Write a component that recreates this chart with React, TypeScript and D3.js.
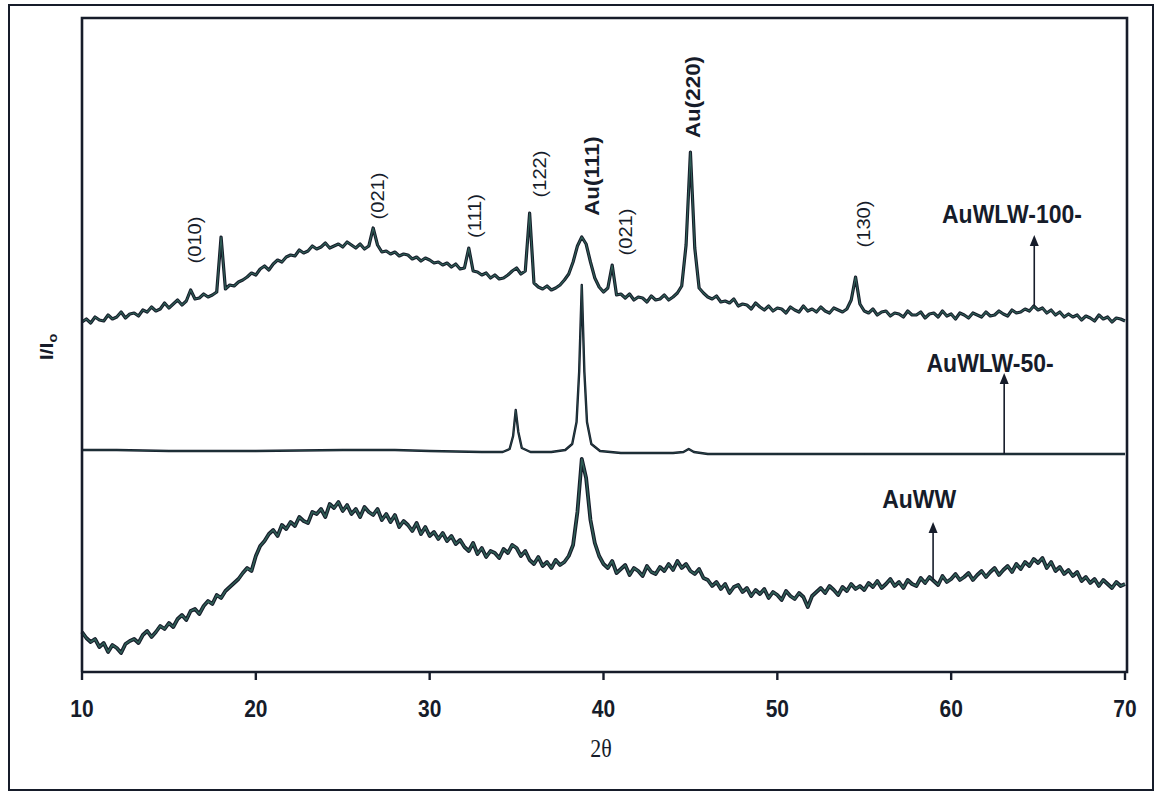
import React from 'react';
import * as d3 from 'd3';

const width = 1156;
const height = 792;

// plot box in page pixels
const box = { left: 82, right: 1125, top: 18, bottom: 672 };

// 2θ grid of the two noisy scans
const thetaStart = 10;
const thetaStep = 0.25;

// AuWLW-100- (top scan), intensity in arbitrary units
const auwlw100 = [
  350, 353, 349, 355, 352, 351, 357, 353, 355, 360, 354, 358,
  359, 356, 362, 360, 365, 361, 363, 369, 364, 368, 372, 367,
  371, 382, 373, 374, 378, 375, 377, 380, 435, 383, 387, 386,
  390, 392, 395, 399, 397, 403, 406, 402, 408, 412, 410, 415,
  417, 416, 422, 419, 421, 426, 423, 425, 429, 424, 426, 428,
  425, 430, 427, 424, 428, 423, 426, 444, 427, 420, 421, 418,
  420, 416, 418, 417, 413, 415, 411, 414, 412, 409, 410, 407,
  409, 405, 408, 403, 404, 424, 401, 400, 397, 399, 394, 397,
  393, 394, 397, 401, 404, 398, 401, 459, 389, 385, 383, 386,
  382, 384, 387, 392, 398, 410, 426, 435, 428, 410, 394, 385,
  380, 384, 407, 377, 378, 374, 378, 372, 375, 374, 370, 376,
  372, 373, 377, 372, 375, 379, 386, 427, 520, 424, 384, 379,
  375, 373, 376, 370, 371, 369, 373, 366, 368, 367, 363, 369,
  365, 362, 366, 361, 364, 363, 359, 365, 362, 360, 366, 361,
  363, 360, 365, 361, 359, 364, 362, 360, 363, 372, 395, 368,
  361, 359, 363, 357, 360, 361, 356, 359, 358, 355, 361, 357,
  357, 360, 354, 358, 359, 355, 361, 356, 358, 353, 359, 357,
  354, 359, 357, 355, 360, 356, 357, 361, 358, 356, 362, 359,
  360, 363, 361, 366, 362, 364, 359, 362, 357, 360, 355, 358,
  355, 357, 352, 356, 354, 351, 357, 353, 355, 350, 354, 353,
  351
];

// AuWW (bottom scan)
const auww = [
  40, 34, 30, 33, 25, 29, 20, 27, 24, 19, 28, 31,
  33, 29, 37, 41, 35, 40, 46, 43, 49, 45, 53, 57,
  52, 61, 63, 58, 66, 71, 68, 77, 74, 81, 85, 89,
  93, 99, 104, 101, 116, 126, 131, 138, 142, 136, 147, 143,
  150, 146, 155, 151, 149, 160, 158, 163, 155, 168, 164, 170,
  161, 167, 158, 163, 155, 165, 160, 157, 163, 152, 158, 150,
  157, 145, 151, 147, 141, 149, 138, 145, 136, 140, 133, 139,
  131, 136, 128, 132, 125, 121, 129, 118, 124, 115, 121, 119,
  114, 123, 119, 127, 124, 116, 121, 112, 108, 115, 106, 110,
  104, 112, 107, 110, 116, 127, 160, 213, 194, 152, 129, 116,
  108, 104, 111, 99, 103, 107, 97, 104, 101, 96, 106, 100,
  98, 105, 101, 108, 102, 111, 104, 108, 101, 98, 103, 94,
  92, 86, 90, 83, 88, 79, 85, 87, 80, 84, 76, 82,
  78, 83, 74, 80, 77, 72, 81, 76, 73, 79, 75, 65,
  76, 80, 84, 79, 86, 82, 77, 85, 81, 88, 83, 86,
  82, 89, 85, 91, 84, 88, 93, 86, 90, 84, 92, 88,
  86, 94, 89, 95, 91, 87, 96, 90, 93, 98, 92, 95,
  99, 92, 97, 101, 95, 100, 104, 97, 102, 106, 100, 108,
  103, 110, 106, 113, 109, 114, 104, 110, 101, 105, 98, 102,
  96, 100, 91, 95, 89, 93, 86, 92, 88, 84, 90, 86,
  88
];

// AuWLW-50- (middle scan) - smooth, so read at uneven 2θ
const auwlw50Theta = [10, 12, 15, 20, 25, 28, 30, 33, 34.2, 34.6, 34.8, 34.95, 35.1, 35.3, 35.8, 37, 37.8, 38.2, 38.45, 38.6, 38.75, 38.9, 39.05, 39.3, 39.8, 41, 44, 44.6, 44.9, 45.2, 46, 50, 55, 60, 65, 70];
const auwlw50 = [222, 222, 221, 221, 222, 222, 221, 220, 220, 223, 236, 262, 240, 224, 220, 220, 222, 228, 250, 300, 387, 300, 250, 228, 221, 219, 219, 220, 223, 220, 218, 218, 218, 218, 218, 218];

const xTicks = [10, 20, 30, 40, 50, 60, 70];

// peak indexing labels
const peakText = ['(010)', '(021)', '(111)', '(122)', 'Au(111)', '(021)', 'Au(220)', '(130)'];
const peakTheta = [16.5, 27.03, 32.6, 36.35, 39.34, 41.3, 45.16, 54.94];
const peakLabelI = [432, 476, 456, 498, 496, 440, 575, 448];
const peakBig = [false, false, false, false, true, false, true, false];

// sample names with arrows
const sampleText = ['AuWLW-100-', 'AuWLW-50-', 'AuWW'];
const sampleArrowTheta = [64.78, 63.05, 58.96];
const sampleArrowTipI = [437, 299, 150];
const sampleLabelTheta = [63.5, 62.24, 58.16];
const sampleLabelI = [449, 300, 164];

const ink = '#161c2a';
const teal = '#2f5d55';
const sans = 'Liberation Sans, Arial, sans-serif';
const stretch = 1.12;

const xScale = d3.scaleLinear().domain([10, 70]).range([box.left, box.right]);
const yScale = d3.scaleLinear().domain([0, 654]).range([box.bottom, box.top]);

const gridPoints = (vals: number[]) => vals.map((v, i) => [thetaStart + i * thetaStep, v] as [number, number]);

const line = d3.line<[number, number]>()
  .x(d => xScale(d[0]))
  .y(d => yScale(d[1]));

const valueAt = (pts: [number, number][], t: number) => {
  const i = d3.bisector((d: [number, number]) => d[0]).left(pts, t);
  const a = pts[Math.max(0, i - 1)], b = pts[Math.min(pts.length - 1, i)];
  if (a[0] === b[0]) return a[1];
  return a[1] + (b[1] - a[1]) * (t - a[0]) / (b[0] - a[0]);
};

const App = () => {
  const top = gridPoints(auwlw100);
  const bottom = gridPoints(auww);
  const middle = auwlw50Theta.map((t, i) => [t, auwlw50[i]] as [number, number]);
  const series = [top, middle, bottom];
  // outline / core widths of each noisy scan
  const widths = [[3.2, 1.2], [3.8, 1.6]];

  return (
    <svg width={width} height={height} style={{ position: 'absolute', left: 0, top: 0, display: 'block', background: '#fff' }}>
      {/* outer frame */}
      <rect x={9} y={5} width={1144} height={785} fill="none" stroke={ink} strokeWidth={2} />

      {/* traces */}
      {[top, bottom].map((pts, i) => (
        <g key={'s' + i}>
          <path d={line(pts) || ''} fill="none" stroke={ink} strokeWidth={widths[i][0]} strokeLinejoin="round" />
          <path d={line(pts) || ''} fill="none" stroke={teal} strokeWidth={widths[i][1]} strokeLinejoin="round" />
        </g>
      ))}
      <path d={line(middle) || ''} fill="none" stroke={ink} strokeWidth={2.4} strokeLinejoin="round" />
      <path d={line(middle) || ''} fill="none" stroke={teal} strokeWidth={0.6} strokeLinejoin="round" />

      {/* plot box */}
      <path d={`M${box.left},${box.bottom}V${box.top}H${box.right + 2}V${box.bottom}H${box.left}`} fill="none" stroke={ink} strokeWidth={2.6} />
      {xTicks.map(t => (
        <g key={t}>
          <line x1={xScale(t)} x2={xScale(t)} y1={box.bottom} y2={box.bottom + 8} stroke={ink} strokeWidth={2.4} />
          <text transform={`translate(${xScale(t)},${box.bottom + 45}) scale(1,${stretch})`} textAnchor="middle" fontFamily={sans} fontWeight="bold" fontSize={21} fill={ink}>{t}</text>
        </g>
      ))}

      {/* axis titles */}
      <text transform={`translate(601,757) scale(1,${stretch})`} textAnchor="middle" fontFamily="Liberation Serif, Times New Roman, serif" fontSize={22} fill={ink}>2θ</text>
      <text transform={`translate(53,347) scale(1,${stretch}) rotate(-90)`} textAnchor="middle" fontFamily={sans} fontWeight="bold" fontSize={19} fill={ink}>
        I/I<tspan fontSize={13} dy={4}>o</tspan>
      </text>

      {/* peak labels */}
      {peakText.map((s, i) => (
        <text key={'p' + i}
          transform={`translate(${xScale(peakTheta[i])},${yScale(peakLabelI[i])}) scale(1,${stretch}) rotate(-90)`}
          textAnchor="middle" dy="0.35em" fontFamily={sans}
          fontWeight={peakBig[i] ? 'bold' : 'normal'} fontSize={peakBig[i] ? 20 : 18} fill={ink}>{s}</text>
      ))}

      {/* sample names and arrows */}
      {sampleText.map((s, i) => {
        const x = xScale(sampleArrowTheta[i]);
        const y0 = yScale(valueAt(series[i], sampleArrowTheta[i]));
        const tip = yScale(sampleArrowTipI[i]);
        return (
          <g key={'n' + i}>
            <line x1={x} x2={x} y1={y0} y2={tip + 8} stroke={ink} strokeWidth={1.6} />
            <path d={`M${x},${tip}L${x - 4.5},${tip + 11}L${x + 4.5},${tip + 11}Z`} fill={ink} />
            <text transform={`translate(${xScale(sampleLabelTheta[i])},${yScale(sampleLabelI[i])}) scale(1,${stretch})`}
              textAnchor="middle" fontFamily={sans} fontWeight="bold" fontSize={23} fill={ink}>{s}</text>
          </g>
        );
      })}
    </svg>
  );
};

export default App;
